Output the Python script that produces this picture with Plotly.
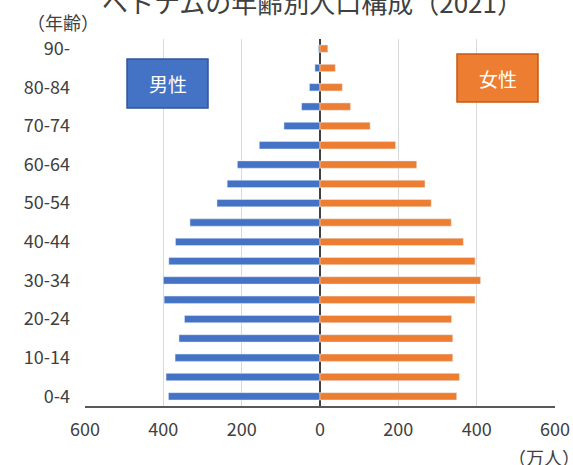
import plotly.graph_objects as go

ages = ["0-4", "5-9", "10-14", "15-19", "20-24", "25-29", "30-34", "35-39", "40-44",
        "45-49", "50-54", "55-59", "60-64", "65-69", "70-74", "75-79", "80-84", "85-89", "90-"]
male = [387, 393, 370, 360, 346, 398, 400, 386, 369, 332, 263, 237, 211, 155, 92, 47, 27, 13, 4]
female = [349, 356, 339, 339, 336, 396, 410, 396, 366, 335, 284, 268, 247, 193, 128, 78, 57, 39, 20]
tick_ages = ["0-4", "10-14", "20-24", "30-34", "40-44", "50-54", "60-64", "70-74", "80-84", "90-"]
x_tickvals = [-600, -400, -200, 0, 200, 400, 600]
x_ticktext = ["600", "400", "200", "0", "200", "400", "600"]

FONT = "Noto Sans CJK JP"
TXT = "#404040"
BLUE = "#4472C4"
ORANGE = "#ED7D31"

# plot area in pixels
L, R, T, B = 85, 555, 39, 406
W, H = 573, 465


def px(x):
    return (x - L) / (R - L)


def py(y):
    return (B - y) / (B - T)


fig = go.Figure()
fig.add_trace(go.Bar(y=ages, x=[-v for v in male], orientation="h", marker_color=BLUE,
                     width=0.38, name="男性", customdata=male,
                     hovertemplate="%{y}: %{customdata}<extra>男性</extra>"))
fig.add_trace(go.Bar(y=ages, x=female, orientation="h", marker_color=ORANGE,
                     width=0.38, name="女性",
                     hovertemplate="%{y}: %{x}<extra>女性</extra>"))

fig.update_layout(
    width=W, height=H, autosize=False,
    margin=dict(l=L, r=W - R, t=T, b=H - B),
    barmode="relative",
    showlegend=False,
    plot_bgcolor="white", paper_bgcolor="white",
    font=dict(family=FONT, color=TXT),
    xaxis=dict(range=[-600, 600], tickvals=x_tickvals, ticktext=x_ticktext,
               tickfont=dict(size=18, color=TXT), showgrid=True, gridcolor="#D9D9D9",
               gridwidth=1, zeroline=True, zerolinecolor="#404040", zerolinewidth=2,
               showline=True, linecolor="#595959", linewidth=1.5, ticks="",
               ticklabelstandoff=7, fixedrange=True, automargin=False),
    yaxis=dict(type="category", categoryorder="array", categoryarray=ages,
               range=[-0.5, 18.5], tickvals=tick_ages, ticktext=tick_ages,
               tickfont=dict(size=18, color=TXT), showgrid=False, ticks="",
               ticklabelstandoff=14, showline=False, automargin=False, fixedrange=True),
)

# legend boxes
fig.add_shape(type="rect", xref="paper", yref="paper", x0=px(127), x1=px(208),
              y0=py(108), y1=py(59), fillcolor=BLUE, line=dict(color="#2F5597", width=1.5))
fig.add_shape(type="rect", xref="paper", yref="paper", x0=px(457), x1=px(538),
              y0=py(102), y1=py(54), fillcolor=ORANGE, line=dict(color="#C55A11", width=1.5))


def label(xp, yp, text, size, color=TXT):
    fig.add_annotation(x=px(xp), y=py(yp), xref="paper", yref="paper", text=text,
                       showarrow=False, xanchor="center", yanchor="middle",
                       font=dict(size=size, color=color, family=FONT))


label(167.5, 83.5, "男性", 19, "white")
label(497.5, 78, "女性", 19, "white")
label(312, 1, "ベトナムの年齢別人口構成（2021）", 26)
label(63, 22, "（年齢）", 18)
label(544, 457, "（万人）", 18)

fig.write_html(
    "out.html",
    config={"responsive": False, "displayModeBar": False},
    post_script="document.body.style.margin='0';document.body.style.overflow='hidden';",
)
